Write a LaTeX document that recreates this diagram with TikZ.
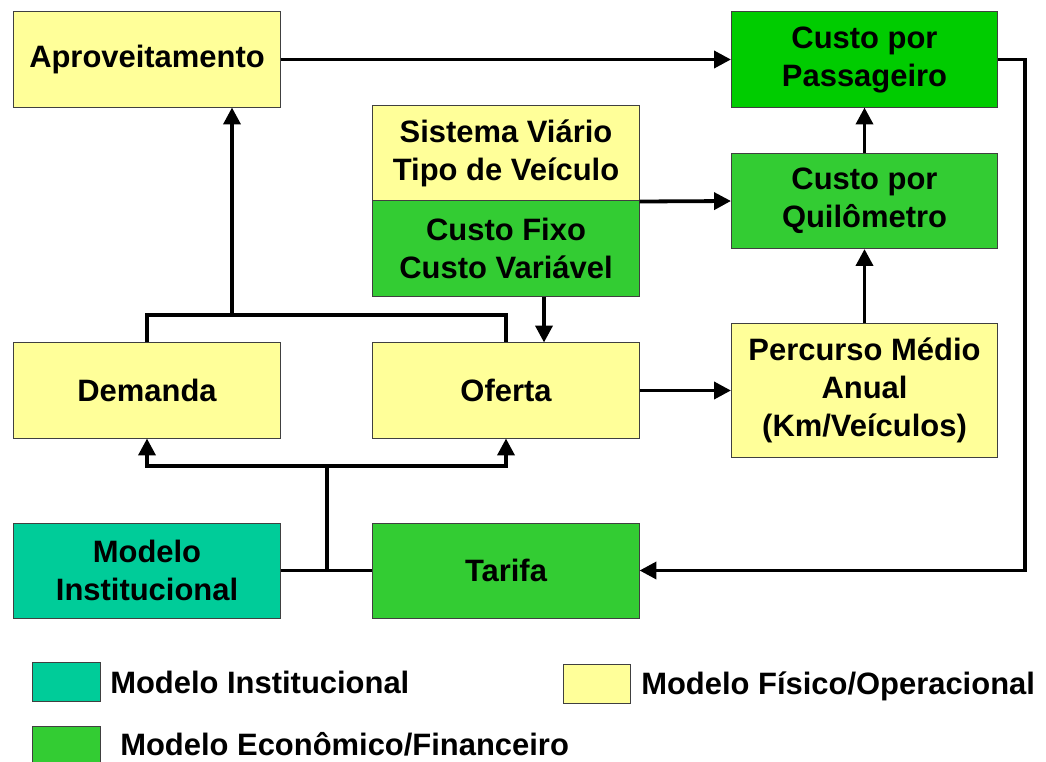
\documentclass[tikz,border=0pt]{standalone}
\usepackage{fontspec}
\setmainfont{Liberation Sans}
\usetikzlibrary{arrows.meta}

\definecolor{amarelo}{HTML}{FFFF99}
\definecolor{verde}{HTML}{33CC33}
\definecolor{verdevivo}{HTML}{00CC00}
\definecolor{turquesa}{HTML}{00CC99}

\begin{document}
\begin{tikzpicture}[
    x=0.025cm, y=-0.025cm,
    bloco/.style={draw=black!75, line width=0.7pt, minimum width=6.65cm, minimum height=2.375cm,
        inner sep=2pt, align=center, font=\bfseries\fontsize{22}{27}\selectfont},
    fisico/.style={bloco, fill=amarelo},
    economico/.style={bloco, fill=verde},
    institucional/.style={bloco, fill=turquesa},
    legenda/.style={draw=black!75, line width=0.7pt, minimum width=1.675cm, minimum height=0.975cm, inner sep=0pt},
    rotulo/.style={anchor=base west, inner sep=0pt, font=\bfseries\fontsize{22}{27}\selectfont},
    linha/.style={line width=2.7pt},
    seta/.style={linha, -{Triangle[length=12pt, width=12pt]}}
]
    \useasboundingbox (0,0) rectangle (1046,762);

    % --- Blocos superiores ---
    \node[fisico] (aprov) at (147,59.5) {Aproveitamento};
    \node[bloco, fill=verdevivo] (cpass) at (864.5,59.5) {Custo por\\Passageiro};
    \node[fisico] (sist) at (506,153.5) {Sistema Viário\\Tipo de Veículo};
    \node[economico] (cfixo) at (506,248.5) {Custo Fixo\\Custo Variável};
    \node[economico] (ckm) at (864.5,201) {Custo por\\Quilômetro};

    % --- Blocos do meio ---
    \node[fisico] (dem) at (147,390.5) {Demanda};
    \node[fisico] (ofe) at (506,390.5) {Oferta};
    \node[fisico, minimum height=3.325cm] (perc) at (864.5,390.5) {Percurso Médio\\Anual\\(Km/Veículos)};

    % --- Blocos inferiores ---
    \node[institucional] (inst) at (147,570.5) {Modelo\\Institucional};
    \node[economico] (tar) at (506,570.5) {Tarifa};

    % Pontos de junção
    \coordinate (juncao) at (232,315);
    \coordinate (garfo) at (327,466);

    % --- Ligações ---
    \draw[seta] (aprov) -- (cpass);
    \draw[seta] (ckm) -- (cpass);
    \draw[seta] (perc) -- (ckm);
    \draw[seta] (sist.south east) -- (ckm.west);
    \draw[seta] ([xshift=0.95cm]cfixo.south) -- ([xshift=0.95cm]ofe.north);
    \draw[seta] (ofe) -- (perc);
    \draw[seta] (cpass.east) -- ++(27,0) |- (tar.east);

    \draw[linha] (dem.north) |- (juncao) -| (ofe.north);
    \draw[seta] (juncao) -- (juncao |- aprov.south);

    \draw[linha] (inst) -- (tar);
    \draw[linha] (garfo) -- (garfo |- inst.east);
    \draw[seta] (garfo) -| (dem.south);
    \draw[seta] (garfo) -| (ofe.south);

    % --- Legenda ---
    \node[legenda, fill=turquesa] (leginst) at (66.5,681.5) {};
    \node[rotulo] (txtinst) at (110,693) {Modelo Institucional};
    \node[legenda, fill=amarelo] (legfis) at (596.5,684) {};
    \node[rotulo] (txtfis) at (641,694) {Modelo Físico/Operacional};
    \node[legenda, fill=verde] (legeco) at (66.5,746) {};
    \node[rotulo] (txteco) at (120,755) {Modelo Econômico/Financeiro};

\end{tikzpicture}
\end{document}
